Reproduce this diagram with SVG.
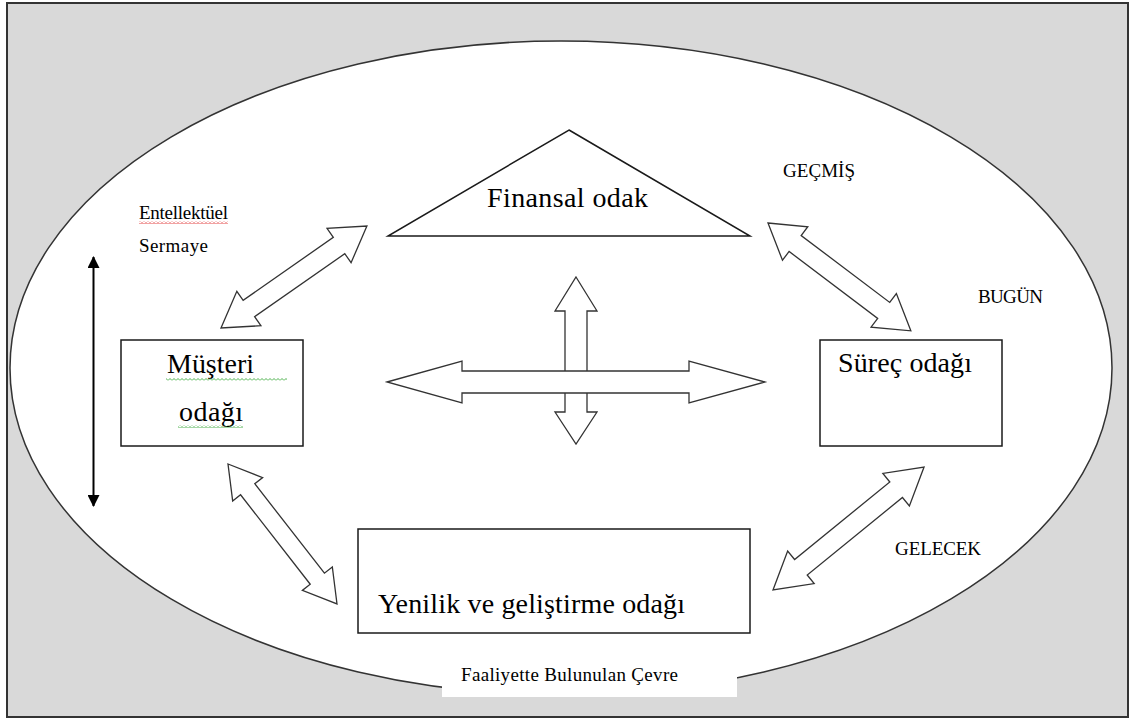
<svg xmlns="http://www.w3.org/2000/svg" width="1131" height="719" viewBox="0 0 1131 719">
<style>
.serif{font-family:"Liberation Serif","Times New Roman",serif;fill:#000}
.big{font-size:28px}
.small{font-size:19px}
.box{fill:#fff;stroke:#1a1a1a;stroke-width:1.5}
.blk{fill:#fff;stroke:#333;stroke-width:1.3;stroke-linejoin:miter}
</style>
<defs>
<marker id="ah" viewBox="0 0 12 12" refX="11" refY="6" markerWidth="12" markerHeight="12" markerUnits="userSpaceOnUse" orient="auto-start-reverse">
<path d="M0,0 L12,6 L0,12 Z" fill="#000"/>
</marker>
<pattern id="wavR" width="4" height="3" patternUnits="userSpaceOnUse">
<polyline points="0,2.5 2,0.5 4,2.5" fill="none" stroke="#e03030" stroke-width="0.9"/>
</pattern>
<pattern id="wavG" width="4" height="3" patternUnits="userSpaceOnUse">
<polyline points="0,2.5 2,0.5 4,2.5" fill="none" stroke="#3aa83a" stroke-width="0.9"/>
</pattern>
</defs>

<g id="background">
<rect x="7" y="3" width="1121" height="714" fill="#d9d9d9" stroke="#333" stroke-width="2"/>
<ellipse cx="561" cy="368" rx="551" ry="327" fill="#fff" stroke="#333" stroke-width="1.5"/>
</g>

<g id="connectors">
<path class="blk" transform="translate(221,328) rotate(-34.94)" d="M0,0 L34,-21 L34,-10 L144,-10 L144,-21 L178,0 L144,21 L144,10 L34,10 L34,21 Z"/>
<path class="blk" transform="translate(768,223) rotate(37.06)" d="M0,0 L34,-21 L34,-10 L145,-10 L145,-21 L179,0 L145,21 L145,10 L34,10 L34,21 Z"/>
<path class="blk" transform="translate(228,464) rotate(52.09)" d="M0,0 L32,-19 L32,-9 L145.4,-9 L145.4,-19 L177.4,0 L145.4,19 L145.4,9 L32,9 L32,19 Z"/>
<path class="blk" transform="translate(773,590) rotate(-39.16)" d="M0,0 L36,-21 L36,-10 L158.8,-10 L158.8,-21 L194.8,0 L158.8,21 L158.8,10 L36,10 L36,21 Z"/>
<path class="blk" d="M576,277 L597,311 L587,311 L587,412 L597,412 L576,444 L555,412 L565,412 L565,311 L555,311 Z"/>
<path class="blk" d="M387,382 L462,361 L462,371 L689,371 L689,361 L765,382 L689,403 L689,393 L462,393 L462,403 Z"/>
<line x1="93.5" y1="257" x2="93.5" y2="506" stroke="#000" stroke-width="2" marker-start="url(#ah)" marker-end="url(#ah)"/>
</g>

<g id="finansal">
<polygon class="box" points="569,130 750,236 388,236"/>
<text class="serif big" x="487" y="207" textLength="161" lengthAdjust="spacing">Finansal odak</text>
</g>

<g id="musteri">
<rect class="box" x="121" y="340" width="182" height="106"/>
<text class="serif big" x="167" y="373" textLength="87" lengthAdjust="spacing">Müşteri</text>
<text class="serif big" x="179" y="421" textLength="64" lengthAdjust="spacing">odağı</text>
<rect x="166" y="378" width="121" height="3" fill="url(#wavG)"/>
<rect x="178" y="425" width="65" height="3" fill="url(#wavG)"/>
</g>

<g id="surec">
<rect class="box" x="820" y="340" width="182" height="106"/>
<text class="serif big" x="838" y="372" textLength="134" lengthAdjust="spacing">Süreç odağı</text>
</g>

<g id="yenilik">
<rect class="box" x="358" y="529" width="392" height="104"/>
<text class="serif big" x="378" y="613" textLength="307" lengthAdjust="spacing">Yenilik ve geliştirme odağı</text>
</g>

<g id="labels">
<text class="serif small" x="139" y="219" textLength="89" lengthAdjust="spacing">Entellektüel</text>
<rect x="139" y="221" width="89" height="3" fill="url(#wavR)"/>
<text class="serif small" x="139" y="252" textLength="69" lengthAdjust="spacing">Sermaye</text>
<text class="serif small" x="783" y="177" textLength="72" lengthAdjust="spacing">GEÇMİŞ</text>
<text class="serif small" x="978" y="303" textLength="65" lengthAdjust="spacing">BUGÜN</text>
<text class="serif small" x="895" y="555" textLength="86" lengthAdjust="spacing">GELECEK</text>
</g>

<g id="cevre">
<rect x="442" y="656" width="295" height="41" fill="#fff"/>
<text class="serif small" x="461" y="681" textLength="217" lengthAdjust="spacing">Faaliyette Bulunulan Çevre</text>
</g>
</svg>
